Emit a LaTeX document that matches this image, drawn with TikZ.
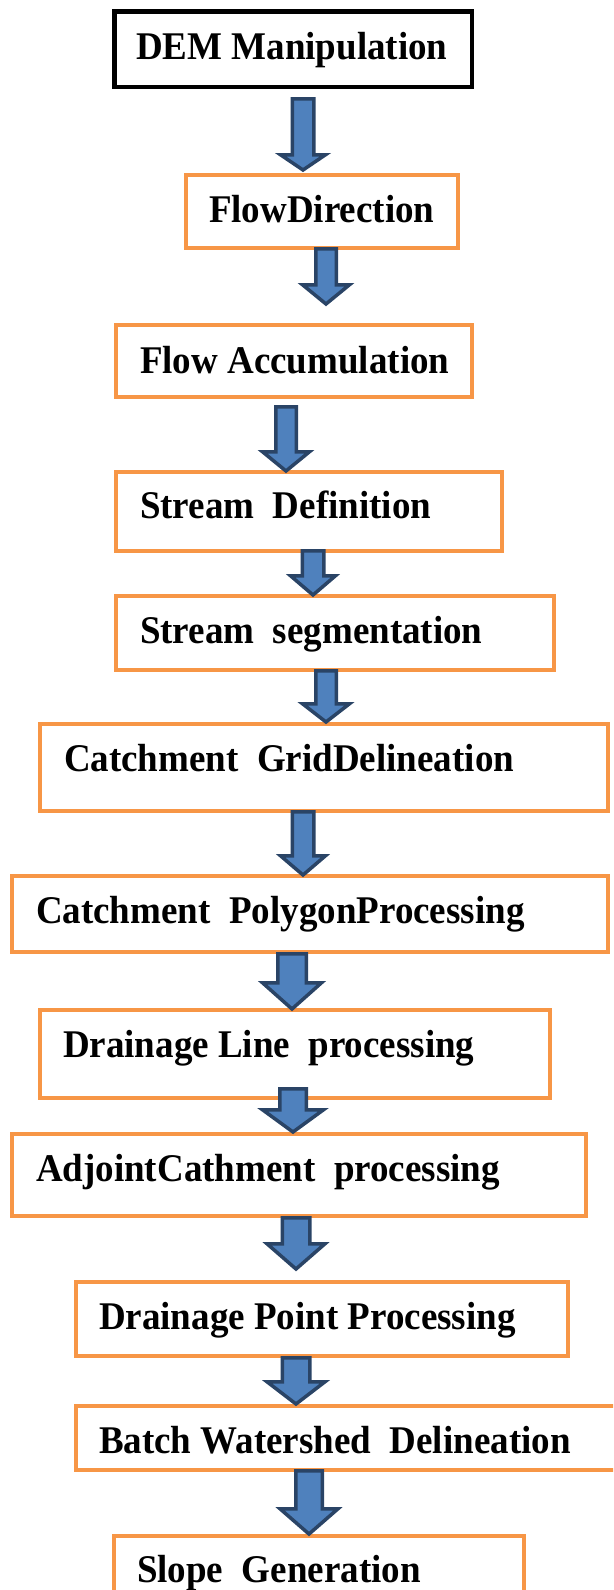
\documentclass[tikz,border=0pt]{standalone}
\usepackage{fontspec}
\usepackage{graphicx}
\setmainfont{Liberation Serif}
\definecolor{boxorange}{HTML}{F79646}
\definecolor{arrowfill}{HTML}{4F81BD}
\definecolor{arrowline}{HTML}{2A4466}
\newcommand\tallt[1]{\scalebox{1}[1.06]{#1}}
\tikzset{
  box/.style={rectangle, draw=boxorange, line width=4pt, inner sep=0pt, outer sep=0pt},
  blackbox/.style={box, draw=black, line width=4.5pt},
  lbl/.style={anchor=base west, inner sep=0pt, outer sep=0pt, font=\fontsize{37}{40}\selectfont\bfseries},
  barrow/.style={fill=arrowfill, draw=arrowline, line width=3.5pt, line join=miter}
}
% cx, top, head base, tip, shaft half width, head half width
\newcommand\blockarrow[6]{%
  \draw[barrow] (#1-#5+1.75,#2+1.75) -- (#1+#5-1.75,#2+1.75) -- (#1+#5-1.75,#3+1.75)
    -- (#1+#6-2.5,#3+1.75) -- (#1,#4-3) -- (#1-#6+2.5,#3+1.75)
    -- (#1-#5+1.75,#3+1.75) -- cycle;}
\begin{document}
\begin{tikzpicture}[x=1pt,y=-1pt]
\useasboundingbox (0,0) rectangle (613,1590);
\clip (0,0) rectangle (613,1590);
\fill[white] (0,0) rectangle (613,1590);
% boxes
\node[blackbox, minimum width=357.5pt, minimum height=75.5pt] (b1) at (293,49) {};
\node[box, minimum width=272pt, minimum height=73pt] (b2) at (322,211.5) {};
\node[box, minimum width=356pt, minimum height=72pt] (b3) at (294,361) {};
\node[box, minimum width=386pt, minimum height=79pt] (b4) at (309,511.5) {};
\node[box, minimum width=438pt, minimum height=74pt] (b5) at (335,633) {};
\node[box, minimum width=568pt, minimum height=87pt] (b6) at (324,767.5) {};
\node[box, minimum width=596pt, minimum height=76pt] (b7) at (310,914) {};
\node[box, minimum width=510pt, minimum height=88pt] (b8) at (295,1054) {};
\node[box, minimum width=574pt, minimum height=82pt] (b9) at (299,1175) {};
\node[box, minimum width=492pt, minimum height=74pt] (b10) at (322,1319) {};
\node[box, minimum width=562pt, minimum height=64pt] (b11) at (357,1438) {};
\node[box, minimum width=410pt, minimum height=92pt] (b12) at (319,1582) {};
% labels
\node[lbl] (t1) at (136,59) {\tallt{DEM Manipulation}};
\node[lbl] (t2) at (209,222) {\tallt{FlowDirection}};
\node[lbl] (t3) at (140,373) {\tallt{Flow Accumulation}};
\node[lbl] (t4) at (140,518) {\tallt{Stream\ \ Definition}};
\node[lbl] (t5) at (140,643) {\tallt{Stream\ \ segmentation}};
\node[lbl] (t6) at (64,771) {\tallt{Catchment\ \ GridDelineation}};
\node[lbl] (t7) at (36,923) {\tallt{Catchment\ \ PolygonProcessing}};
\node[lbl] (t8) at (63,1057) {\tallt{Drainage Line\ \ processing}};
\node[lbl] (t9) at (36,1181) {\tallt{AdjointCathment\ \ processing}};
\node[lbl] (t10) at (99,1329) {\tallt{Drainage Point Processing}};
\node[lbl] (t11) at (99,1453) {\tallt{Batch Watershed\ \ Delineation}};
\node[lbl] (t12) at (137,1582) {\tallt{Slope\ \ Generation}};
% block arrows
\blockarrow{303}{97}{153}{173}{12.5}{25}
\blockarrow{326}{247}{283}{307}{12}{26}
\blockarrow{286}{405}{450}{474}{12}{26}
\blockarrow{313}{549}{574}{598}{12.5}{25}
\blockarrow{326}{669}{702}{725}{12}{26}
\blockarrow{303}{810}{854}{878}{12.5}{25}
\blockarrow{292}{952}{981}{1012}{16}{32}
\blockarrow{293}{1087}{1108}{1135}{15}{33}
\blockarrow{296}{1216}{1242}{1272}{15.5}{31.5}
\blockarrow{296}{1356}{1380}{1407}{15.5}{31.5}
\blockarrow{309}{1469}{1507}{1537}{15}{31.5}
\end{tikzpicture}
\end{document}
